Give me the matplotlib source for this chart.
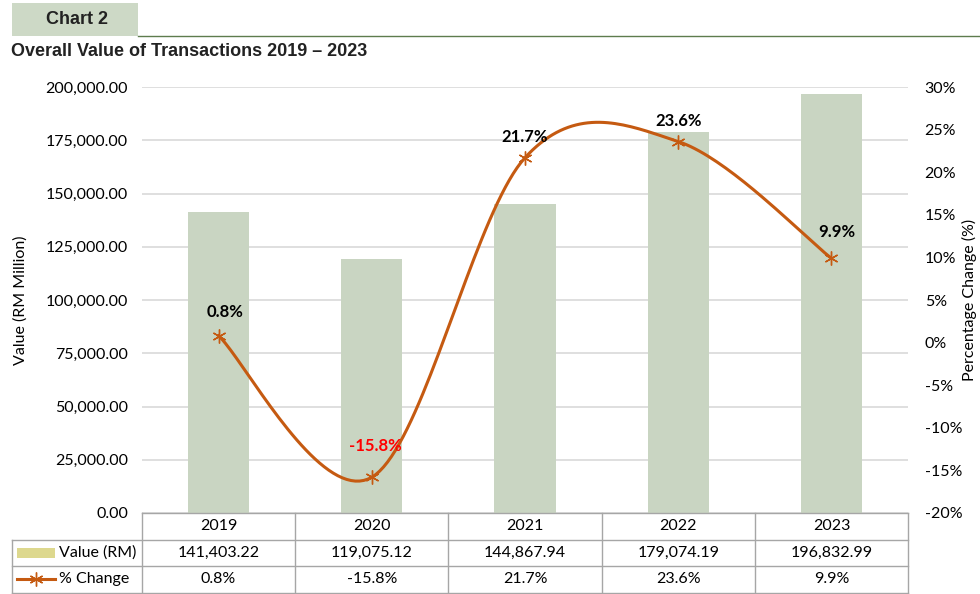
import numpy as np
import matplotlib
matplotlib.use('Agg')
import matplotlib.pyplot as plt
from matplotlib.patches import Rectangle
from matplotlib.lines import Line2D
import matplotlib.transforms as mtransforms

# data
years = ['2019', '2020', '2021', '2022', '2023']
values = [141403.22, 119075.12, 144867.94, 179074.19, 196832.99]
pct_change = [0.8, -15.8, 21.7, 23.6, 9.9]

bar_color = '#c9d5c2'
legend_bar_color = '#ddd88e'
line_color = '#c55a11'
plt.rcParams['font.family'] = ['Lato', 'DejaVu Sans']

fig = plt.figure(figsize=(9.8, 5.94), dpi=100)
W, H = 980, 594

def fx(px):
    return px / W

def fy(py):
    return 1 - py / H

# header box and rule
fig.patches.append(Rectangle((fx(12), fy(36)), fx(126), 33 / H, transform=fig.transFigure,
                             facecolor='#cdd9c6', edgecolor='none'))
fig.add_artist(Line2D([fx(138), 1], [fy(36), fy(36)], transform=fig.transFigure,
                      color='#5e7c4e', lw=1.0))
fig.text(fx(77), fy(20), 'Chart 2', ha='center', va='center', fontsize=13, fontweight='bold',
         family=['Liberation Sans Narrow', 'Liberation Sans'], color='#222222')
fig.text(fx(11), fy(52), 'Overall Value of Transactions 2019 \u2013 2023', ha='left', va='center',
         fontsize=13, fontweight='bold', family=['Liberation Sans Narrow', 'Liberation Sans'],
         color='#222222')

ax = fig.add_axes([fx(142), fy(513), fx(908 - 142), (513 - 87) / H])
x = np.arange(len(years))
ax.bar(x, values, width=0.4, color=bar_color, zorder=2)
ax.set_xlim(-0.5, len(years) - 0.5)
ax.set_ylim(0, 200000)
ax.set_yticks(np.arange(0, 200001, 25000))
ax.set_yticklabels(['{:,.2f}'.format(v) for v in np.arange(0, 200001, 25000)])
ax.grid(axis='y', color='#d9d9d9', lw=1.2, zorder=0)
ax.set_xticks([])
for s in ax.spines.values():
    s.set_visible(False)
ax.tick_params(axis='y', length=0, labelsize=11.5, pad=10, colors='#000000')
ax.set_ylabel('Value (RM Million)', fontsize=11.5)
ax.yaxis.set_label_coords(-(142 - 28) / 766, 0.5)

ax2 = ax.twinx()
ax2.set_ylim(-20, 30)
ax2.set_yticks(np.arange(-20, 31, 5))
ax2.set_yticklabels(['{:d}%'.format(v) for v in np.arange(-20, 31, 5)])
ax2.tick_params(axis='y', length=0, labelsize=11.5, pad=12)
for s in ax2.spines.values():
    s.set_visible(False)
ax2.set_ylabel('Percentage Change (%)', fontsize=11.5)
ax2.yaxis.set_label_coords(1 + (962 - 908) / 766, 0.5)

# smoothed line (Excel-style Catmull-Rom in display space)
pts = ax2.transData.transform(np.column_stack([x, pct_change]))
n = len(pts)
curve = []
for i in range(n - 1):
    p0 = pts[max(i - 1, 0)]
    p1 = pts[i]
    p2 = pts[i + 1]
    p3 = pts[min(i + 2, n - 1)]
    c1 = p1 + (p2 - p0) / 6
    c2 = p2 - (p3 - p1) / 6
    t = np.linspace(0, 1, 40)[:, None]
    seg = (1 - t) ** 3 * p1 + 3 * (1 - t) ** 2 * t * c1 + 3 * (1 - t) * t ** 2 * c2 + t ** 3 * p2
    curve.append(seg)
curve = ax2.transData.inverted().transform(np.vstack(curve))
ax2.plot(curve[:, 0], curve[:, 1], color=line_color, lw=2.2, zorder=3)
ax2.plot(x, pct_change, ls='none', marker=(6, 2, 0), ms=10, mew=1.0, color=line_color, zorder=4)

label_off = [(6, 24), (4, 31), (0, 21), (0, 21), (5, 26)]
for xi, v, off in zip(x, pct_change, label_off):
    ax2.annotate('{:.1f}%'.format(v), (xi, v), xytext=off, textcoords='offset pixels',
                 ha='center', va='center', fontsize=12, fontweight='bold',
                 color='#ff0000' if v < 0 else '#000000')

# data table below the axes
row_h = 26.5 / 426
trans = mtransforms.blended_transform_factory(ax.transData, ax.transAxes)
grid_kw = dict(color='#a6a6a6', lw=1.0, clip_on=False)
left_edge = -0.5 - (142 - 12) / 153.2
ys = [0, -row_h, -2 * row_h, -3 * row_h]
ax.add_line(Line2D([-0.5, 4.5], [ys[0], ys[0]], transform=trans, **grid_kw))
for yv in ys[1:]:
    ax.add_line(Line2D([left_edge, 4.5], [yv, yv], transform=trans, **grid_kw))
for xv in np.arange(-0.5, 5, 1.0):
    ax.add_line(Line2D([xv, xv], [ys[0], ys[3]], transform=trans, **grid_kw))
ax.add_line(Line2D([left_edge, left_edge], [ys[1], ys[3]], transform=trans, **grid_kw))

rows = [years, ['{:,.2f}'.format(v) for v in values], ['{:.1f}%'.format(v) for v in pct_change]]
for r, row in enumerate(rows):
    yc = -(r + 0.5) * row_h
    for xi, txt in zip(x, row):
        ax.text(xi, yc, txt, transform=trans, ha='center', va='center', fontsize=11.5)

# row headers with legend keys
key_x0 = left_edge + 5 / 153.2
key_x1 = left_edge + 43 / 153.2
ax.add_patch(Rectangle((key_x0, -1.5 * row_h - 5 / 426), key_x1 - key_x0, 10 / 426,
                       transform=trans, facecolor=legend_bar_color, edgecolor='none', clip_on=False))
ax.text(key_x1 + 4 / 153.2, -1.5 * row_h, 'Value (RM)', transform=trans, ha='left',
        va='center', fontsize=11.5)
ax.add_line(Line2D([key_x0, key_x1], [-2.5 * row_h] * 2, transform=trans, color=line_color,
                   lw=2.2, clip_on=False))
ax.add_line(Line2D([(key_x0 + key_x1) / 2], [-2.5 * row_h], transform=trans, color=line_color,
                   marker=(6, 2, 0), ms=10, mew=1.0, clip_on=False))
ax.text(key_x1 + 4 / 153.2, -2.5 * row_h, '% Change', transform=trans, ha='left',
        va='center', fontsize=11.5)

fig.savefig('out.png', dpi=100)
